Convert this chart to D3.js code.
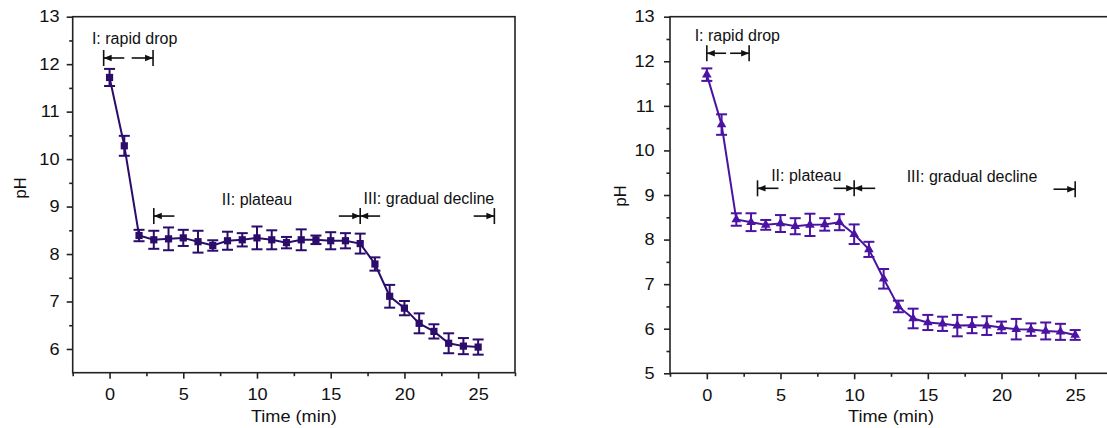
<!DOCTYPE html>
<html lang="en">
<head>
  <meta charset="UTF-8">
  <title>pH vs time</title>
  <style>
    body {
      margin: 0;
      background: #fff;
      font-family: "Liberation Sans", Arial, sans-serif;
    }
    svg {
      display: block;
    }
    .tick text {
      font-size: 16.5px;
      fill: #111;
    }
    .tick line {
      stroke: #222;
      stroke-width: 1.6;
    }
    .frame {
      fill: none;
      stroke: #222;
      stroke-width: 1.6;
    }
    .axis_legend {
      font-size: 16.5px;
      fill: #111;
      text-anchor: middle;
    }
    .phase text {
      font-size: 16px;
      fill: #111;
      text-anchor: middle;
    }
    .phase line {
      stroke: #111;
      stroke-width: 1.6;
    }
  </style>
  <script src="https://cdn.jsdelivr.net/npm/d3@7"></script>
</head>
<body>
  <div id="chart"></div>
  <script>
/* global d3 */

// time points (min), same for both panels
var times = [0, 1, 2, 3, 4, 5, 6, 7, 8, 9, 10, 11, 12, 13, 14, 15, 16, 17, 18, 19, 20, 21, 22, 23, 24, 25];

// left panel (squares)
var phLeft = [11.72, 10.28, 8.39, 8.30, 8.32, 8.34, 8.26, 8.18, 8.28, 8.30, 8.34, 8.30, 8.24,
  8.30, 8.30, 8.28, 8.28, 8.22, 7.79, 7.11, 6.86, 6.54, 6.37, 6.12, 6.06, 6.04];
var errLeft = [0.18, 0.21, 0.12, 0.19, 0.24, 0.17, 0.23, 0.11, 0.19, 0.14, 0.24, 0.20, 0.12,
  0.22, 0.09, 0.18, 0.16, 0.21, 0.14, 0.24, 0.15, 0.21, 0.15, 0.21, 0.17, 0.16];

// right panel (triangles)
var phRight = [11.70, 10.58, 8.45, 8.39, 8.33, 8.36, 8.30, 8.33, 8.34, 8.39, 8.12, 7.78, 7.12,
  6.50, 6.23, 6.14, 6.11, 6.07, 6.08, 6.07, 6.03, 5.99, 5.98, 5.95, 5.93, 5.86];
var errRight = [0.14, 0.23, 0.14, 0.20, 0.11, 0.19, 0.18, 0.25, 0.14, 0.18, 0.22, 0.17, 0.22,
  0.13, 0.22, 0.17, 0.16, 0.24, 0.18, 0.21, 0.13, 0.23, 0.14, 0.19, 0.18, 0.11];

var xTicks = [0, 5, 10, 15, 20, 25];
var xMinor = [-2.5, 2.5, 7.5, 12.5, 17.5, 22.5, 27.5];
var yTicksLeft = [6, 7, 8, 9, 10, 11, 12, 13];
var yMinorLeft = [6.5, 7.5, 8.5, 9.5, 10.5, 11.5, 12.5];
var yTicksRight = [5, 6, 7, 8, 9, 10, 11, 12, 13];
var yMinorRight = [5.5, 6.5, 7.5, 8.5, 9.5, 10.5, 11.5, 12.5];

// phase annotations, in data units (time, pH)
var phaseLabelsLeft = [
  {text: "I: rapid drop", t: 1.7, ph: 12.42},
  {text: "II: plateau", t: 10.0, ph: 9.03},
  {text: "III: gradual decline", t: 21.66, ph: 9.05}
];
var phaseBarsLeft = [
  {t: -0.4, ph: 12.13}, {t: 2.95, ph: 12.13},
  {t: 3.0, ph: 8.80}, {t: 17.0, ph: 8.80}, {t: 26.1, ph: 8.80}
];
var phaseArrowsLeft = [
  {from: 1.0, to: -0.4, ph: 12.13}, {from: 1.5, to: 2.95, ph: 12.13},
  {from: 4.4, to: 3.0, ph: 8.80}, {from: 15.55, to: 17.0, ph: 8.80},
  {from: 18.35, to: 17.0, ph: 8.80}, {from: 24.7, to: 26.1, ph: 8.80}
];

var phaseLabelsRight = [
  {text: "I: rapid drop", t: 2.07, ph: 12.46},
  {text: "II: plateau", t: 6.75, ph: 9.32},
  {text: "III: gradual decline", t: 18.0, ph: 9.30}
];
var phaseBarsRight = [
  {t: 0.0, ph: 12.18}, {t: 2.87, ph: 12.18},
  {t: 3.44, ph: 9.15}, {t: 10.0, ph: 9.15}, {t: 25.0, ph: 9.13}
];
var phaseArrowsRight = [
  {from: 1.31, to: 0.0, ph: 12.18}, {from: 1.58, to: 2.87, ph: 12.18},
  {from: 4.86, to: 3.44, ph: 9.15}, {from: 8.6, to: 10.0, ph: 9.15},
  {from: 11.43, to: 10.0, ph: 9.15}, {from: 23.53, to: 25.0, ph: 9.13}
];

// the source figure's text is slightly wide, stretch it a bit
var STRETCH = 1.1;

var svg = d3.select("#chart")
  .append("svg")
  .attr("width", 1107)
  .attr("height", 428);

function drawPanel(p) {
  var g = svg.append("g").attr("class", "panel");

  var x = d3.scaleLinear().domain([-2.5, 27.5]).range([p.left, p.right]);
  var y = d3.scaleLinear().domain([p.yMin, 13]).range([p.bottom, p.top]);

  // minor ticks first
  g.append("g")
    .attr("transform", "translate(0," + p.bottom + ")")
    .call(d3.axisBottom(x).tickValues(xMinor).tickSize(3.5).tickFormat(""))
    .call(function (s) { s.select(".domain").remove(); });
  g.append("g")
    .attr("transform", "translate(" + p.left + ",0)")
    .call(d3.axisLeft(y).tickValues(p.yMinor).tickSize(3.5).tickFormat(""))
    .call(function (s) { s.select(".domain").remove(); });

  g.append("g")
    .attr("class", "axis--x")
    .attr("transform", "translate(0," + p.bottom + ")")
    .call(d3.axisBottom(x).tickValues(xTicks).tickSize(6).tickPadding(10))
    .call(function (s) { s.select(".domain").remove(); });
  g.append("g")
    .attr("class", "axis--y")
    .attr("transform", "translate(" + p.left + ",0)")
    .call(d3.axisLeft(y).tickValues(p.yTicks).tickSize(6).tickPadding(p.yPad))
    .call(function (s) { s.select(".domain").remove(); });

  g.selectAll(".tick text")
    .attr("font-family", null)
    .attr("transform", "scale(" + STRETCH + ",1)");

  g.append("rect")
    .attr("class", "frame")
    .attr("x", p.left)
    .attr("y", p.top)
    .attr("width", p.right - p.left)
    .attr("height", p.bottom - p.top);

  g.append("text")
    .attr("class", "axis_legend")
    .attr("transform", "translate(" + (p.left + p.right) / 2 + ",422) scale(" + STRETCH + ",1)")
    .text("Time (min)");

  g.append("text")
    .attr("class", "axis_legend")
    .attr("transform", "translate(" + p.yLabelX + "," + p.yLabelY + ") rotate(-90)")
    .text("pH");

  // series
  var pts = times.map(function (t, i) {
    return {t: t, ph: p.values[i], err: p.errors[i]};
  });

  var series = g.append("g").attr("class", "series");

  series.append("path")
    .datum(pts)
    .attr("fill", "none")
    .attr("stroke", p.color)
    .attr("stroke-width", 2)
    .attr("d", d3.line()
      .x(function (d) { return x(d.t); })
      .y(function (d) { return y(d.ph); }));

  var bars = series.selectAll(".err")
    .data(pts)
    .enter()
    .append("g")
    .attr("class", "err")
    .attr("stroke", p.color)
    .attr("stroke-width", 2);
  var capW = 5.5;
  bars.append("line")
    .attr("x1", function (d) { return x(d.t); })
    .attr("x2", function (d) { return x(d.t); })
    .attr("y1", function (d) { return y(d.ph + d.err); })
    .attr("y2", function (d) { return y(d.ph - d.err); });
  bars.append("line")
    .attr("x1", function (d) { return x(d.t) - capW; })
    .attr("x2", function (d) { return x(d.t) + capW; })
    .attr("y1", function (d) { return y(d.ph + d.err); })
    .attr("y2", function (d) { return y(d.ph + d.err); });
  bars.append("line")
    .attr("x1", function (d) { return x(d.t) - capW; })
    .attr("x2", function (d) { return x(d.t) + capW; })
    .attr("y1", function (d) { return y(d.ph - d.err); })
    .attr("y2", function (d) { return y(d.ph - d.err); });

  series.selectAll(".marker")
    .data(pts)
    .enter()
    .append("path")
    .attr("class", "marker")
    .attr("fill", p.color)
    .attr("transform", function (d) {
      return "translate(" + x(d.t) + "," + y(d.ph) + ")";
    })
    .attr("d", d3.symbol().type(p.symbol).size(p.symbolSize));

  // phase annotations
  var ann = g.append("g").attr("class", "phase");

  ann.selectAll("text")
    .data(p.labels)
    .enter()
    .append("text")
    .attr("x", function (d) { return x(d.t); })
    .attr("y", function (d) { return y(d.ph); })
    .text(function (d) { return d.text; });

  ann.selectAll(".bar")
    .data(p.bars)
    .enter()
    .append("line")
    .attr("class", "bar")
    .attr("x1", function (d) { return x(d.t); })
    .attr("x2", function (d) { return x(d.t); })
    .attr("y1", function (d) { return y(d.ph) - 8; })
    .attr("y2", function (d) { return y(d.ph) + 8; });

  ann.selectAll(".arrow")
    .data(p.arrows)
    .enter()
    .append("line")
    .attr("class", "arrow")
    .attr("x1", function (d) { return x(d.from); })
    .attr("x2", function (d) { return x(d.to); })
    .attr("y1", function (d) { return y(d.ph); })
    .attr("y2", function (d) { return y(d.ph); });

  ann.selectAll(".head")
    .data(p.arrows)
    .enter()
    .append("path")
    .attr("class", "head")
    .attr("fill", "#111")
    .attr("d", function (d) {
      var tip = x(d.to), yy = y(d.ph);
      var dir = d.to > d.from ? -1 : 1;
      var back = tip + dir * 8;
      return "M" + tip + "," + yy + "L" + back + "," + (yy - 3.2) + "L" + back + "," + (yy + 3.2) + "Z";
    });
}

drawPanel({
  left: 72.7, right: 515, top: 16.7, bottom: 372.7,
  yMin: 5.5, yTicks: yTicksLeft, yMinor: yMinorLeft, yPad: 6,
  yLabelX: 26, yLabelY: 188,
  values: phLeft, errors: errLeft,
  color: "#2b0c6a", symbol: d3.symbolSquare, symbolSize: 52,
  labels: phaseLabelsLeft, bars: phaseBarsLeft, arrows: phaseArrowsLeft
});

drawPanel({
  left: 670, right: 1112, top: 16.7, bottom: 373.3,
  yMin: 5, yTicks: yTicksRight, yMinor: yMinorRight, yPad: 8,
  yLabelX: 626, yLabelY: 196,
  values: phRight, errors: errRight,
  color: "#4a13a2", symbol: d3.symbolTriangle, symbolSize: 40,
  labels: phaseLabelsRight, bars: phaseBarsRight, arrows: phaseArrowsRight
});
  </script>
</body>
</html>
